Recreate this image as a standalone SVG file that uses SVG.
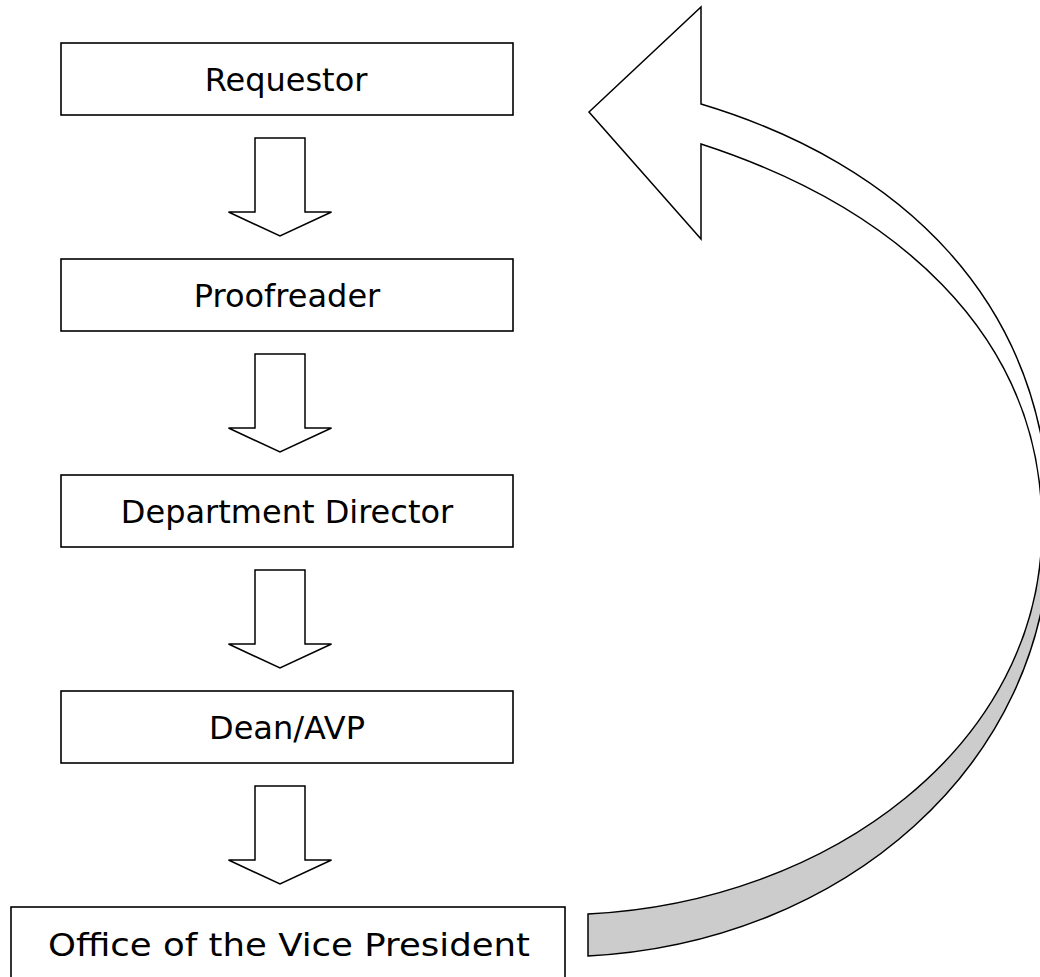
<svg xmlns="http://www.w3.org/2000/svg" width="1040" height="977" viewBox="0 0 1040 977">
<style>
.box{fill:#fff;stroke:#000;stroke-width:1.6}
.lbl{font-family:"DejaVu Sans","Liberation Sans",sans-serif;font-size:32px;fill:#000;text-anchor:middle}
.dn{fill:#fff;stroke:#000;stroke-width:1.5;stroke-linejoin:miter}
.front{fill:#fff;stroke:#000;stroke-width:1.5;stroke-linejoin:miter}
.back{fill:#cccccc;stroke:#000;stroke-width:1.5}
</style>
<defs>
<path id="downArrow" d="M-25,0 H25 V74 H51.5 L0,98 L-51.5,74 H-25 Z"/>
</defs>
<rect width="1040" height="977" fill="#fff"/>
<g id="requestor"><rect class="box" x="61" y="43" width="452" height="72"/><text class="lbl" x="286" y="91">Requestor</text></g>
<g id="proofreader"><rect class="box" x="61" y="259" width="452" height="72"/><text class="lbl" x="287" y="307">Proofreader</text></g>
<g id="department-director"><rect class="box" x="61" y="475" width="452" height="72"/><text class="lbl" x="287" y="523">Department Director</text></g>
<g id="dean-avp"><rect class="box" x="61" y="691" width="452" height="72"/><text class="lbl" x="287" y="739">Dean/AVP</text></g>
<g id="office-vp"><rect class="box" x="11" y="907" width="554" height="80"/><text class="lbl" x="289" y="956" font-size="34" textLength="482" lengthAdjust="spacingAndGlyphs">Office of the Vice President</text></g>
<g id="connectors">
<use href="#downArrow" class="dn" x="280" y="138"/>
<use href="#downArrow" class="dn" x="280" y="354"/>
<use href="#downArrow" class="dn" x="280" y="570"/>
<use href="#downArrow" class="dn" x="280" y="786"/>
<path class="back" d="M588,914 C830,902 1042,745 1042,527 L1050,528 C1050,765 842,943 588,956 Z"/>
<path class="front" d="M701,104 L701,7 L589,112 L701,239 L701,144 C889,205 1042,330 1042,527 L1050,528 C1050,300 898,163 701,104 Z"/>
</g>
</svg>
